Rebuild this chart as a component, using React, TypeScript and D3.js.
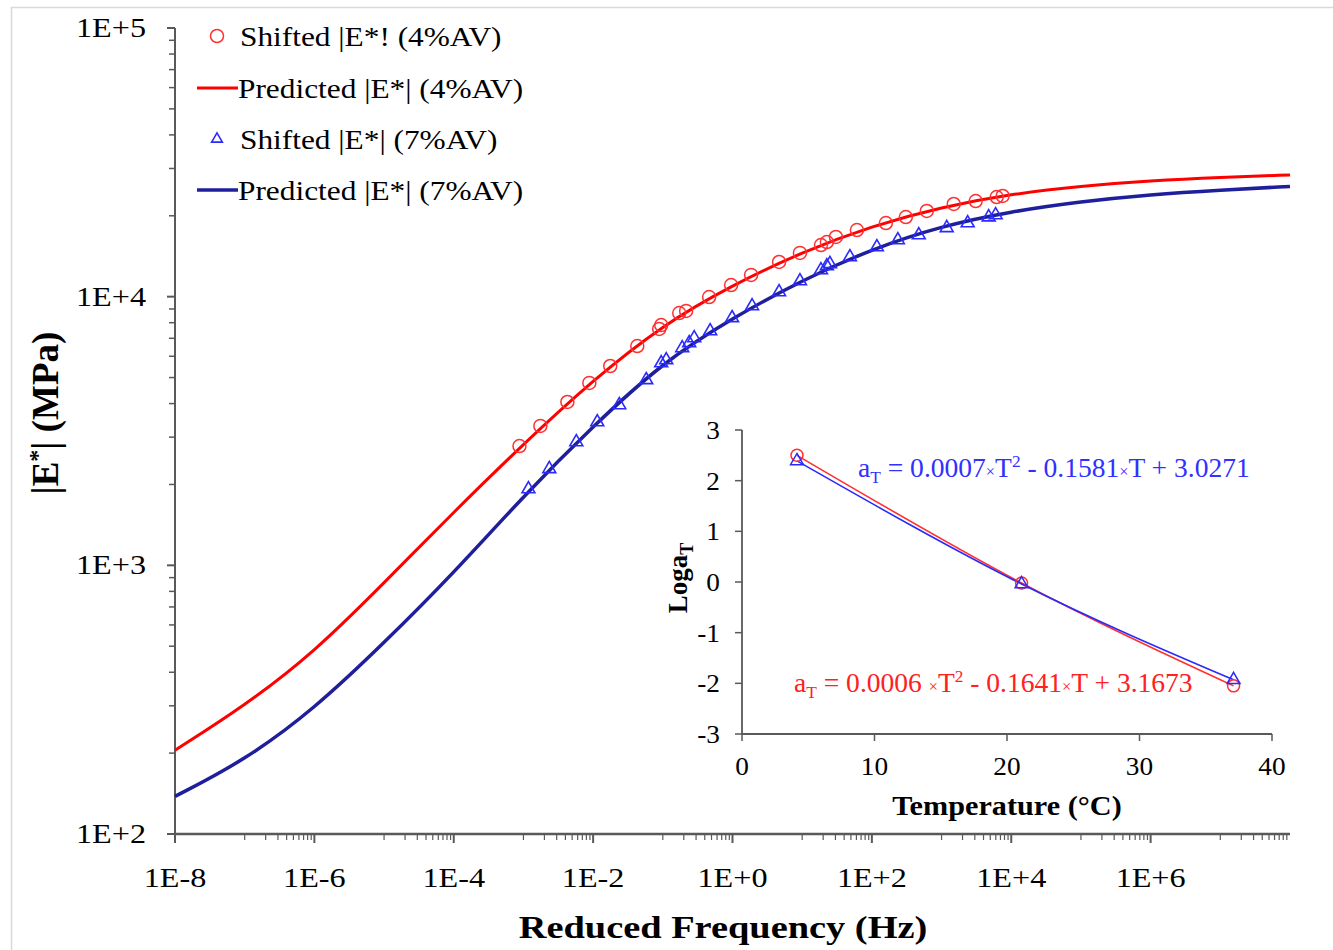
import React from 'react';
import * as d3 from 'd3';

const W = 1333;
const H = 950;

// Main chart data
const redShiftFreq = [8.77e-4, 1.75e-3, 4.27e-3, 8.83e-3, 0.0176, 0.043, 0.0887, 0.0948, 0.172, 0.216, 0.462, 0.955, 1.85, 4.66, 9.29, 18.6, 22.6, 30.5, 61.0, 159, 307, 614, 1496, 3090, 6180, 7530];
const redShiftE = [2780, 3304, 4055, 4775, 5520, 6550, 7580, 7840, 8690, 8850, 9970, 11050, 12050, 13460, 14550, 15570, 15970, 16680, 17700, 18800, 19790, 20840, 22130, 22700, 23490, 23700];

const blueShiftFreq = [1.18e-3, 2.35e-3, 5.74e-3, 0.01148, 0.0237, 0.0578, 0.0948, 0.112, 0.19, 0.239, 0.282, 0.478, 0.986, 1.91, 4.66, 9.29, 18.6, 22.6, 25.0, 48.4, 118, 236, 471, 1186, 2371, 4742, 5970];
const blueShiftE = [1923, 2285, 2878, 3415, 3953, 4898, 5662, 5807, 6442, 6725, 7017, 7450, 8333, 9230, 10400, 11430, 12570, 13000, 13240, 14050, 15300, 16250, 16960, 18030, 18800, 19770, 20140];

const predFreq = [1e-8, 1e-7, 1e-6, 1e-5, 1e-4, 1e-3, 1e-2, 1e-1, 1e0, 1e1, 1e2, 1e3, 1e4, 1e5, 1e6, 1e7, 1e8];
const predRedE = [205, 300, 475, 860, 1580, 2830, 4897, 7850, 11050, 14660, 18330, 21570, 24100, 25820, 27000, 27800, 28380];
const predBlueE = [138, 188, 292, 514, 936, 1811, 3300, 5700, 8330, 11530, 15040, 18330, 20760, 22600, 24000, 24950, 25720];

const xTickValues = [1e-8, 1e-6, 1e-4, 1e-2, 1e0, 1e2, 1e4, 1e6];
const xTickLabels = ['1E-8', '1E-6', '1E-4', '1E-2', '1E+0', '1E+2', '1E+4', '1E+6'];
const yTickValues = [1e2, 1e3, 1e4, 1e5];
const yTickLabels = ['1E+2', '1E+3', '1E+4', '1E+5'];

const legendLabels = ['Shifted |E*! (4%AV)', 'Predicted |E*| (4%AV)', 'Shifted |E*| (7%AV)', 'Predicted |E*| (7%AV)'];

// Inset data
const insetTemp = [4.15, 21.1, 37.1];
const insetRedLogaT = [2.5, -0.02, -2.05];
const insetBlueLogaT = [2.39, -0.04, -1.93];
const insetXTicks = [0, 10, 20, 30, 40];
const insetYTicks = [-3, -2, -1, 0, 1, 2, 3];

const FONT = "'Liberation Serif', 'Times New Roman', serif";
const RED = '#ff0000';
const RED_M = '#ff3030';
const NAVY = '#1f1f9c';
const BLUE_M = '#2a2aff';
const AXIS = '#595959';

function Txt(props: any) {
  const { x, y, sx = 1, rot = 0, anchor = 'start', size = 27, weight = 'normal', fill = '#000', children } = props;
  return (
    <text
      transform={`translate(${x},${y}) rotate(${rot}) scale(${sx},1)`}
      textAnchor={anchor}
      fontFamily={FONT}
      fontSize={size}
      fontWeight={weight}
      fill={fill}
    >
      {children}
    </text>
  );
}

export default function App() {
  const x = d3.scaleLog().domain([1e-8, 1e8]).range([175, 1290]);
  const y = d3.scaleLog().domain([1e2, 1e5]).range([834, 28]);

  const ix = d3.scaleLinear().domain([0, 40]).range([742, 1272]);
  const iy = d3.scaleLinear().domain([-3, 3]).range([734, 430]);

  const line = d3
    .line<[number, number]>()
    .x((d) => x(d[0]))
    .y((d) => y(d[1]))
    .curve(d3.curveBasis);

  const redPred = line(predFreq.map((f, i) => [f, predRedE[i]]));
  const bluePred = line(predFreq.map((f, i) => [f, predBlueE[i]]));

  const iline = d3
    .line<[number, number]>()
    .x((d) => ix(d[0]))
    .y((d) => iy(d[1]))
    .curve(d3.curveNatural);
  const iRed = iline(insetTemp.map((t, i) => [t, insetRedLogaT[i]]));
  const iBlue = iline(insetTemp.map((t, i) => [t, insetBlueLogaT[i]]));

  const tri = d3.symbol().type(d3.symbolTriangle).size(72)();
  const triSmall = d3.symbol().type(d3.symbolTriangle).size(50)();

  // y minor ticks
  const yMinor: number[] = [];
  for (let n = 2; n <= 4; n++) for (let k = 2; k <= 9; k++) yMinor.push(k * Math.pow(10, n));
  // x minor ticks (odd decades k*10^odd)
  const xMinor: number[] = [];
  for (let n = -7; n <= 7; n += 2) for (let k = 1; k <= 9; k++) xMinor.push(k * Math.pow(10, n));

  return (
    <svg width={W} height={H} style={{ position: 'absolute', left: 0, top: 0, background: '#fff' }}>
      <rect x={0} y={0} width={W} height={H} fill="#fff" />
      <rect x={11.5} y={7.5} width={1340} height={960} fill="none" stroke="#d9d9d9" strokeWidth={1.5} />

      {/* Main axes */}
      <line x1={175} x2={175} y1={y(1e5)} y2={y(1e2)} stroke={AXIS} strokeWidth={2} />
      <line x1={175} x2={x(1e8)} y1={834} y2={834} stroke={AXIS} strokeWidth={2.5} />
      {yTickValues.map((v) => (
        <line key={'ym' + v} x1={167} x2={175} y1={y(v)} y2={y(v)} stroke={AXIS} strokeWidth={2} />
      ))}
      {yMinor.map((v) => (
        <line key={'yn' + v} x1={169} x2={175} y1={y(v)} y2={y(v)} stroke={AXIS} strokeWidth={1.5} />
      ))}
      {xTickValues.map((v) => (
        <line key={'xm' + v} x1={x(v)} x2={x(v)} y1={834} y2={843} stroke={AXIS} strokeWidth={2} />
      ))}
      {xMinor.map((v) => (
        <line key={'xn' + v} x1={x(v)} x2={x(v)} y1={834} y2={840} stroke={AXIS} strokeWidth={1.2} />
      ))}

      {yTickValues.map((v, i) => (
        <Txt key={'yl' + v} x={146} y={y(v) + 9} anchor="end" sx={1.15} size={28}>
          {yTickLabels[i]}
        </Txt>
      ))}
      {xTickValues.map((v, i) => (
        <Txt key={'xl' + v} x={x(v)} y={887} anchor="middle" sx={1.15} size={28}>
          {xTickLabels[i]}
        </Txt>
      ))}

      <Txt x={723} y={938} anchor="middle" sx={1.2} size={32} weight="bold">
        Reduced Frequency (Hz)
      </Txt>
      <text transform="translate(58,413) rotate(-90)" textAnchor="middle" fontFamily={FONT} fontSize={37} fontWeight="bold">
        |E<tspan dy={-13} fontSize={24}>*</tspan>
        <tspan dy={13}>| (MPa)</tspan>
      </text>

      {/* Predicted curves */}
      <path d={redPred || ''} fill="none" stroke={RED} strokeWidth={3} />
      <path d={bluePred || ''} fill="none" stroke={NAVY} strokeWidth={3.5} />

      {/* Shifted points */}
      {redShiftFreq.map((f, i) => (
        <circle key={'rc' + i} cx={x(f)} cy={y(redShiftE[i])} r={6.5} fill="none" stroke={RED_M} strokeWidth={1.5} />
      ))}
      {blueShiftFreq.map((f, i) => (
        <path key={'bt' + i} d={tri || ''} transform={`translate(${x(f)},${y(blueShiftE[i])})`} fill="none" stroke={BLUE_M} strokeWidth={1.6} />
      ))}

      {/* Legend */}
      <circle cx={217} cy={36} r={6.5} fill="none" stroke={RED_M} strokeWidth={1.5} />
      <Txt x={240} y={46} sx={1.14} size={27.5}>{legendLabels[0]}</Txt>
      <line x1={197} x2={238} y1={88} y2={88} stroke={RED} strokeWidth={3} />
      <Txt x={238} y={98} sx={1.14} size={27.5}>{legendLabels[1]}</Txt>
      <path d={triSmall || ''} transform="translate(217,139)" fill="none" stroke={BLUE_M} strokeWidth={1.6} />
      <Txt x={240} y={149} sx={1.14} size={27.5}>{legendLabels[2]}</Txt>
      <line x1={197} x2={238} y1={190} y2={190} stroke={NAVY} strokeWidth={3.5} />
      <Txt x={238} y={200} sx={1.14} size={27.5}>{legendLabels[3]}</Txt>

      {/* Inset */}
      <line x1={742} x2={742} y1={430} y2={734} stroke={AXIS} strokeWidth={1.8} />
      <line x1={742} x2={1272} y1={734} y2={734} stroke={AXIS} strokeWidth={1.8} />
      {insetYTicks.map((v) => (
        <line key={'iyt' + v} x1={735} x2={742} y1={iy(v)} y2={iy(v)} stroke={AXIS} strokeWidth={1.5} />
      ))}
      {insetXTicks.map((v) => (
        <line key={'ixt' + v} x1={ix(v)} x2={ix(v)} y1={734} y2={741} stroke={AXIS} strokeWidth={1.5} />
      ))}
      {insetYTicks.map((v) => (
        <Txt key={'iyl' + v} x={720} y={iy(v) + 9} anchor="end" sx={1.05} size={26}>
          {String(v)}
        </Txt>
      ))}
      {insetXTicks.map((v) => (
        <Txt key={'ixl' + v} x={ix(v)} y={775} anchor="middle" sx={1.05} size={26}>
          {String(v)}
        </Txt>
      ))}
      <Txt x={1007} y={815} anchor="middle" sx={1.12} size={27} weight="bold">
        Temperature (°C)
      </Txt>
      <text transform="translate(687,578) rotate(-90)" textAnchor="middle" fontFamily={FONT} fontSize={27} fontWeight="bold">
        Loga<tspan dy={6} fontSize={18}>T</tspan>
      </text>

      <path d={iRed || ''} fill="none" stroke={RED_M} strokeWidth={1.6} />
      <path d={iBlue || ''} fill="none" stroke={BLUE_M} strokeWidth={1.6} />
      {insetTemp.map((t, i) => (
        <circle key={'ic' + i} cx={ix(t)} cy={iy(insetRedLogaT[i])} r={6} fill="none" stroke={RED_M} strokeWidth={1.5} />
      ))}
      {insetTemp.map((t, i) => (
        <path key={'it' + i} d={tri || ''} transform={`translate(${ix(t)},${iy(insetBlueLogaT[i])})`} fill="none" stroke={BLUE_M} strokeWidth={1.5} />
      ))}

      {/* Equations */}
      <text transform="translate(858,477) scale(1.02,1)" fontFamily={FONT} fontSize={27} fill="#3030ff">
        a<tspan dy={6} fontSize={17}>T</tspan>
        <tspan dy={-6}> = 0.0007</tspan>
        <tspan fontSize={16}>×</tspan>T<tspan dy={-10} fontSize={17}>2</tspan>
        <tspan dy={10}> - 0.1581</tspan>
        <tspan fontSize={16}>×</tspan>T + 3.0271
      </text>
      <text transform="translate(794,692) scale(1.02,1)" fontFamily={FONT} fontSize={27} fill="#ff2020">
        a<tspan dy={6} fontSize={17}>T</tspan>
        <tspan dy={-6}> = 0.0006 </tspan>
        <tspan fontSize={16}>×</tspan>T<tspan dy={-10} fontSize={17}>2</tspan>
        <tspan dy={10}> - 0.1641</tspan>
        <tspan fontSize={16}>×</tspan>T + 3.1673
      </text>
    </svg>
  );
}
